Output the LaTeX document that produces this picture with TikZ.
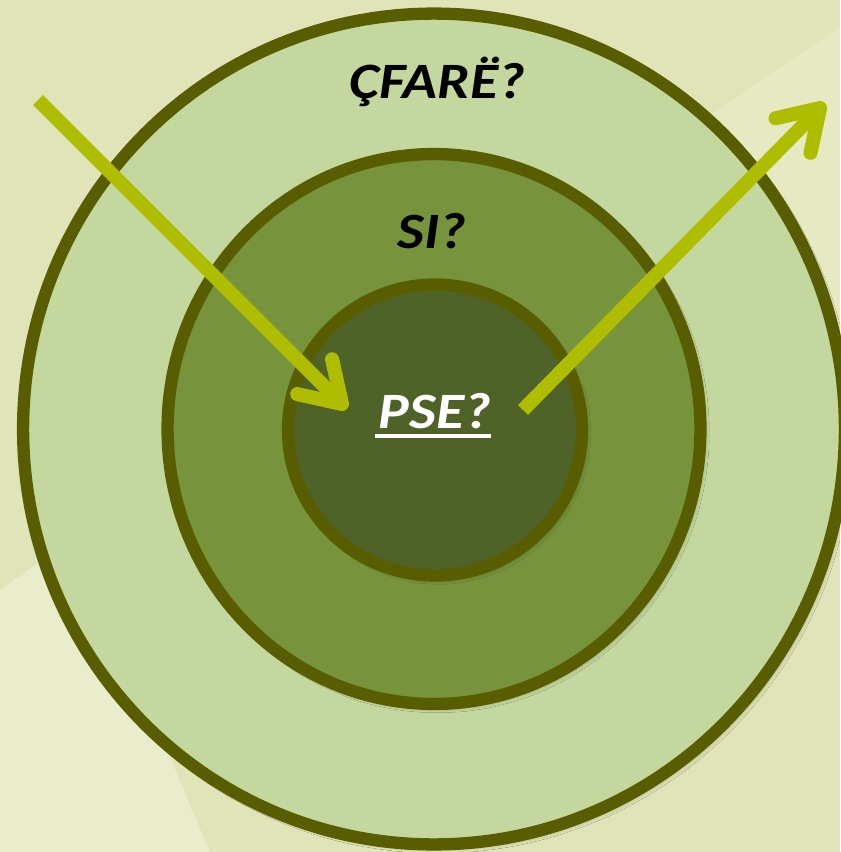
\documentclass[tikz,border=0pt]{standalone}
\usepackage{fontspec}
\setmainfont{Carlito}[FakeStretch=1.13]
\usetikzlibrary{shapes.geometric, arrows.meta, shadows.blur}
\definecolor{bgpale}{RGB}{225,228,184}
\definecolor{bglight}{RGB}{234,237,203}
\definecolor{ringline}{RGB}{88,94,0}
\definecolor{outerfill}{RGB}{196,215,158}
\definecolor{midfill}{RGB}{119,147,60}
\definecolor{innerfill}{RGB}{79,98,40}
\definecolor{arrowgreen}{RGB}{174,189,0}
\newcommand{\fatunder}[1]{\setbox0\hbox{#1}\rlap{\kern-2pt\rule[-5.5pt]{\dimexpr\wd0+2pt\relax}{2.3pt}}\box0}

\begin{document}
\begin{tikzpicture}[x=0.02cm, y=-0.02cm,
            ring/.style={draw=ringline, line width=7pt, ellipse, inner sep=0pt,
              blur shadow={shadow xshift=2pt, shadow yshift=-2pt, shadow blur radius=3pt, shadow opacity=35}},
            ringtext/.style={font=\fontsize{29}{30}\selectfont\bfseries\itshape, anchor=base},
            pointer/.style={draw=arrowgreen, line width=8pt, -{Straight Barb[length=22pt, width=28pt, round]}}]
            \useasboundingbox (0,0) rectangle (840,852);
            \fill[bgpale] (0,0) rectangle (840,852);
            \fill[bglight] (0,590) -- (76,536) -- (210,852) -- (0,852) -- cycle;
            \fill[bglight!60!bgpale] (600,190) -- (840,27) -- (840,420) -- cycle;

            \node[ring, fill=outerfill, minimum width=16.44cm, minimum height=16.62cm] (outer) at (434,429) {};
            \node[ring, fill=midfill, minimum width=10.66cm, minimum height=11cm] (middle) at (434,429) {};
            \node[ring, fill=innerfill, minimum width=5.88cm, minimum height=5.82cm] (inner) at (435,430) {};

            \node[ringtext] (what) at (437,98) {ÇFARË?};
            \node[ringtext] (how) at (432,248) {SI?};
            \node[ringtext, text=white] (why) at (435,428) {\fatunder{PSE?}};

            \coordinate (inStart) at (38,100);
            \coordinate (inEnd) at (347,409);
            \coordinate (outStart) at (523,410);
            \coordinate (outEnd) at (825,103);
            \draw[pointer] (inStart) -- (inEnd);
            \draw[pointer] (outStart) -- (outEnd);
\end{tikzpicture}
\end{document}
